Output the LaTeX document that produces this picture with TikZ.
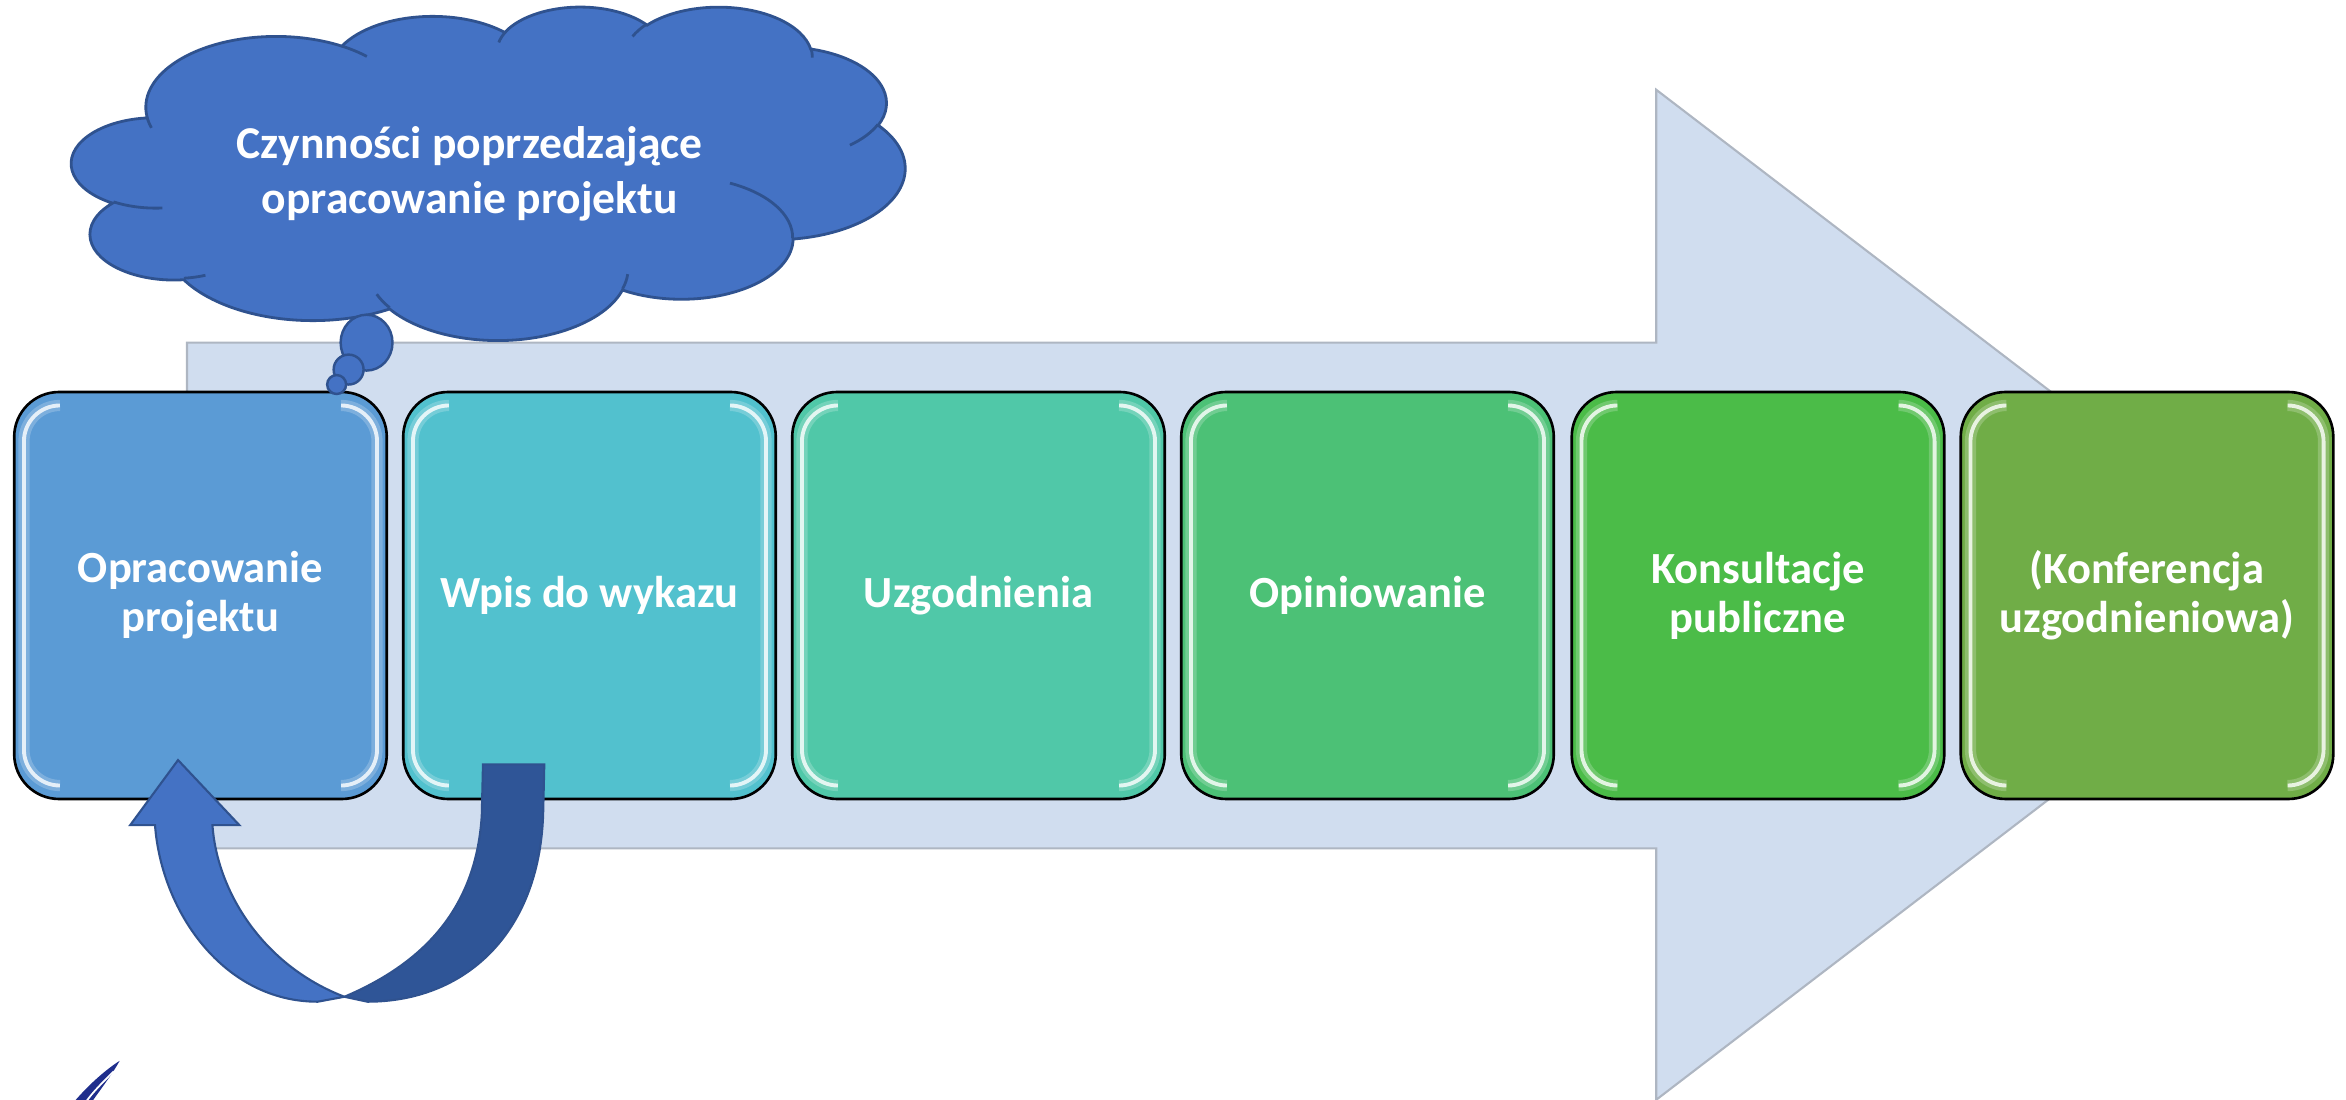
\documentclass[tikz,border=0pt]{standalone}
\usepackage{fontspec}
\setmainfont{Carlito}
\usetikzlibrary{shapes.geometric}
\definecolor{arrowfill}{HTML}{D0DDEF}
\definecolor{arrowedge}{HTML}{AEB6C2}
\definecolor{cloudblue}{HTML}{4472C4}
\definecolor{cloudedge}{HTML}{2F528F}
\definecolor{darkband}{HTML}{2F5597}
\definecolor{cA}{HTML}{5B9BD5}
\definecolor{cB}{HTML}{52C1CE}
\definecolor{cC}{HTML}{50C8A8}
\definecolor{cD}{HTML}{4CC176}
\definecolor{cE}{HTML}{4BBC48}
\definecolor{cF}{HTML}{70AD47}
\definecolor{feathercol}{HTML}{1F2E8C}
\tikzset{
  stepbox/.style={draw=black, line width=0.75pt, rounded corners=0.45cm,
    minimum width=3.735cm, minimum height=4.08cm, inner sep=0pt,
    text=white, align=center, font=\bfseries\fontsize{12.7}{14}\selectfont},
  gloss/.style={draw=white, line width=1.1pt, opacity=0.8, rounded corners=0.36cm},
  glow/.style={line width=3.2pt, opacity=0.35, rounded corners=0.36cm},
  bubble/.style={fill=cloudblue, draw=cloudedge, line width=0.7pt},
  cloudline/.style={draw=cloudedge, line width=0.8pt},
}
\newcommand{\glosssides}[2]{%
  \begin{scope}[shift={(#1.center)}]
    \draw[glow, draw=#2!40!white] (-96,-127) -- (-118,-127) -- (-118,127) -- (-96,127);
    \draw[glow, draw=#2!40!white] (96,-127) -- (118,-127) -- (118,127) -- (96,127);
    \draw[gloss] (-96,-127) -- (-118,-127) -- (-118,127) -- (-96,127);
    \draw[gloss] (96,-127) -- (118,-127) -- (118,127) -- (96,127);
  \end{scope}}
\begin{document}
\begin{tikzpicture}[x=0.015cm,y=-0.015cm]
\useasboundingbox (0,0) rectangle (1568,735);
% big background arrow
\path[fill=arrowfill, draw=arrowedge, line width=0.6pt]
  (125,229) -- (1107,229) -- (1107,60) -- (1548,397.5) -- (1107,735) -- (1107,567) -- (125,567) -- cycle;
% cloud (Office-like outline)
\begin{scope}[shift={(48,4)}, x=0.019340cm, y=-0.0077431cm]
\path[fill=cloudblue, cloudline] (39,143.7)
  arc[start angle=-187.745, delta angle=128.11, x radius=67.53, y radius=91.90]
  arc[start angle=-152.03, delta angle=106.57, x radius=53.33, y radius=72.67]
  arc[start angle=-153.50, delta angle=116.18, x radius=43.65, y radius=59.45]
  arc[start angle=-139.70, delta angle=129.49, x radius=48.57, y radius=65.95]
  arc[start angle=-74.77, delta angle=97.98, x radius=53.33, y radius=72.73]
  arc[start angle=-37.52, delta angle=119.38, x radius=67.75, y radius=92.20]
  arc[start angle=0.46, delta angle=121.51, x radius=57.85, y radius=78.67]
  arc[start angle=16.84, delta angle=129.39, x radius=67.52, y radius=92.15]
  arc[start angle=58.98, delta angle=91.20, x radius=77.20, y radius=105.43]
  arc[start angle=-276.69, delta angle=139.79, x radius=43.60, y radius=59.18]
  arc[start angle=-239.64, delta angle=143.75, x radius=43.45, y radius=59.45]
  -- cycle;
% inner lobe arcs
\draw[cloudline] (46.93,261.77) arc[start angle=85.55, delta angle=34.81, x radius=43.45, y radius=59.45];
\draw[cloudline] (69.28,348.99) arc[start angle=68.23, delta angle=15.08, x radius=43.60, y radius=59.18];
\draw[cloudline] (164.78,390.90) arc[start angle=146.23, delta angle=12.24, x radius=67.52, y radius=92.15];
\draw[cloudline] (288.27,347.51) arc[start angle=4.737, delta angle=12.10, x radius=67.52, y radius=92.15];
\draw[cloudline] (341.29,229.54) arc[start angle=-64.03, delta angle=64.49, x radius=57.85, y radius=78.67];
\draw[cloudline] (417.98,153.54) arc[start angle=23.21, delta angle=26.44, x radius=53.33, y radius=72.73];
\draw[cloudline] (383.24,54.26) arc[start angle=-10.21, delta angle=11.03, x radius=48.57, y radius=65.95];
\draw[cloudline] (290.78,39.52) arc[start angle=-156.29, delta angle=16.59, x radius=48.57, y radius=65.95];
\draw[cloudline] (221.41,47.20) arc[start angle=-167.73, delta angle=14.23, x radius=43.65, y radius=59.45];
\draw[cloudline] (140.00,51.92) arc[start angle=-59.63, delta angle=13.89, x radius=67.53, y radius=91.90];
\draw[cloudline] (41.27,157.89) arc[start angle=163.19, delta angle=9.06, x radius=67.53, y radius=91.90];
\end{scope}
\node[text=white, align=center, font=\bfseries\fontsize{13}{15.6}\selectfont] (cloudtext) at (314,116)
  {Czynności poprzedzające\\opracowanie projektu};
% step boxes
\node[stepbox, fill=cA] (b1) at (134,398) {Opracowanie\\projektu};
\node[stepbox, fill=cB] (b2) at (394,398) {Wpis do wykazu};
\node[stepbox, fill=cC] (b3) at (654,398) {Uzgodnienia};
\node[stepbox, fill=cD] (b4) at (914,398) {Opiniowanie};
\node[stepbox, fill=cE] (b5) at (1175,398) {Konsultacje\\publiczne};
\node[stepbox, fill=cF] (b6) at (1435,398) {(Konferencja\\uzgodnieniowa)};
\glosssides{b1}{cA}
\glosssides{b2}{cB}
\glosssides{b3}{cC}
\glosssides{b4}{cD}
\glosssides{b5}{cE}
\glosssides{b6}{cF}
% thought bubbles
\node[ellipse, bubble, minimum width=0.52cm, minimum height=0.56cm, inner sep=0pt] (bub1) at (245,229) {};
\node[circle, bubble, minimum size=0.3cm, inner sep=0pt] (bub2) at (233,247) {};
\node[circle, bubble, minimum size=0.19cm, inner sep=0pt] (bub3) at (225,257) {};
% curved arrow (back band)
\path[fill=darkband, draw=cloudedge, line width=0.6pt]
  (322.8,510.9) -- (363.8,510.9) -- (363,545)
  .. controls (360,625) and (310,669.5) .. (245.6,669.5)
  -- (230.2,666.2)
  .. controls (280,645) and (318,610) .. (322,545) -- cycle;
% curved arrow (front band with head)
\path[fill=cloudblue, draw=cloudedge, line width=0.6pt]
  (119,508) -- (160,551.5) -- (142,551.5)
  .. controls (145,595) and (175,645) .. (230.2,666.2)
  -- (212.3,669.5)
  .. controls (150,669.5) and (108,610) .. (103.6,551.5)
  -- (87,551.5) -- cycle;
% feather mark
\path[fill=feathercol] (80,709) .. controls (72,714) and (60,724) .. (49,737)
  -- (61,737) .. controls (68,727) and (75,718) .. (80,709) -- cycle;
\draw[white, line width=0.5pt] (76,716) .. controls (68,724) and (62,730) .. (57,737);
\end{tikzpicture}
\end{document}
